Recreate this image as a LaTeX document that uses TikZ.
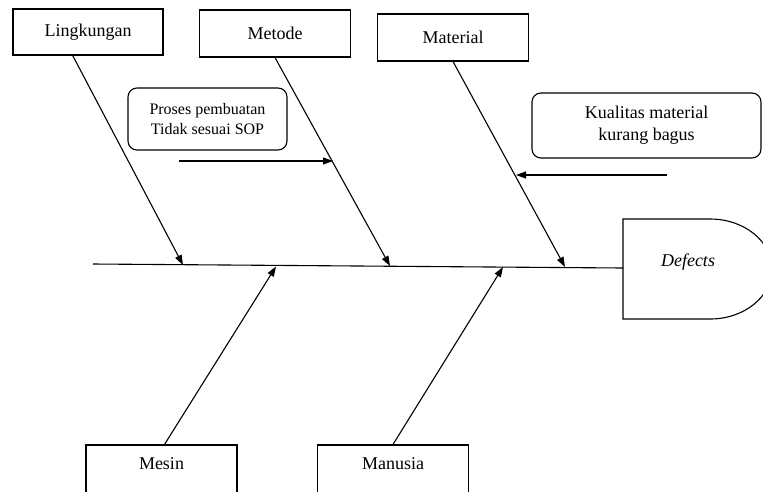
\documentclass[tikz,border=0pt]{standalone}
\usepackage{fontspec}
\setmainfont{Liberation Serif}
\usetikzlibrary{arrows.meta}
\tikzset{
    every node/.style={font=\fontsize{18}{22}\selectfont, inner sep=0pt}
}
\tikzset{box/.style={rectangle, draw, line width=1.1pt, minimum width=151pt, minimum height=47pt}}
\tikzset{cutbox/.style={box, minimum height=56pt, text depth=18pt}}
\tikzset{note/.style={rectangle, draw, rounded corners=9pt, line width=1.1pt, align=center}}
\tikzset{cause/.style={line width=1.1pt, -{Triangle[length=10pt, width=7pt]}}}

\begin{document}
\begin{tikzpicture}[x=1pt, y=-1pt]
    \useasboundingbox (0,0) rectangle (763,491);

    \node (ling) [box, minimum width=150pt, minimum height=46pt] at (88, 32) {Lingkungan};
    \node (meto) [box] at (275, 33.5) {Metode};
    \node (mate) [box] at (453, 37.5) {Material};
    \node (mesi) [cutbox] at (161.5, 473) {Mesin};
    \node (manu) [cutbox] at (393, 473) {Manusia};

    \node (proses) [note, minimum width=159pt, minimum height=62pt, font=\fontsize{16}{20}\selectfont] at (207.5, 119) {Proses pembuatan\\Tidak sesuai SOP};
    \node (kual) [note, minimum width=229pt, minimum height=65pt, font=\fontsize{18}{22}\selectfont] at (646.5, 125.5) {Kualitas material\\kurang bagus};

    \node (defects) [font=\fontsize{18}{22}\selectfont\itshape] at (688, 262) {Defects};

    \coordinate (tail) at (93, 264);
    \coordinate (dw) at (623, 268);
    \coordinate (sl) at (183, 265);
    \coordinate (sm) at (390, 266);
    \coordinate (st) at (565, 267);
    \coordinate (ss) at (276, 266.5);
    \coordinate (sh) at (503, 267);
    \coordinate (p0) at (179, 161);
    \coordinate (p1) at (333, 161);
    \coordinate (k0) at (667, 175);
    \coordinate (k1) at (516, 175);

    % head
    \draw[line width=1.1pt] (623, 219) -- (710, 219)
        arc[start angle=-90, end angle=90, x radius=62, y radius=50] -- (623, 319) -- cycle;

    % spine and bones
    \draw[line width=1.1pt] (tail) -- (dw);
    \draw[cause] (ling.237) -- (sl);
    \draw[cause] (meto.south) -- (sm);
    \draw[cause] (mate.south) -- (st);
    \draw[cause] (mesi.84) -- (ss);
    \draw[cause] (manu.north) -- (sh);

    \draw[cause] (p0) -- (p1);
    \draw[cause] (k0) -- (k1);
\end{tikzpicture}
\end{document}
